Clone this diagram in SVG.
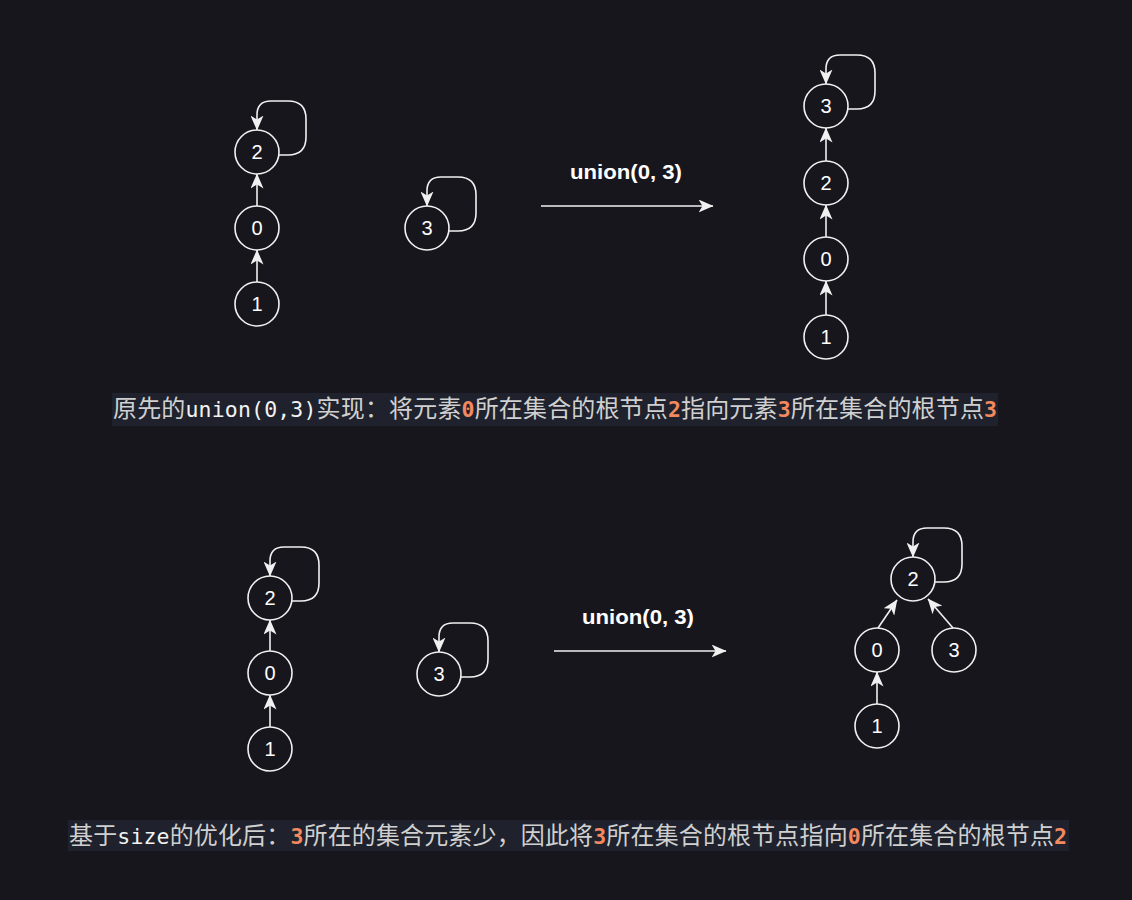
<svg xmlns="http://www.w3.org/2000/svg" width="1132" height="900" viewBox="0 0 1132 900">
<style>
.n circle{fill:none;stroke:#f0f0f0;stroke-width:1.6}
.n text{fill:#ffffff;font-family:"Liberation Sans",Arial,sans-serif;font-size:20px;text-anchor:middle}
.e{fill:none;stroke:#f0f0f0;stroke-width:1.6;marker-end:url(#ah)}
.lbl{fill:#ffffff;font-family:"Liberation Sans",Arial,sans-serif;font-size:20px;font-weight:bold;text-anchor:middle}
.cap{fill:#d0d0d0;font-family:"Noto Sans CJK SC",sans-serif;font-size:24px}
.m{font-family:"DejaVu Sans Mono","Noto Sans CJK SC",monospace;font-size:21.5px;fill:#f2f2f2}
.o{font-family:"DejaVu Sans Mono","Noto Sans CJK SC",monospace;font-size:21.5px;font-weight:bold;fill:#f4895f}
</style>
<defs>
<marker id="ah" markerUnits="userSpaceOnUse" markerWidth="15" markerHeight="13" viewBox="0 0 15 13" refX="14.5" refY="6.5" orient="auto">
<path d="M0,0 L15,6.5 L0,13 L4,6.5 Z" fill="#f0f0f0"/>
</marker>
</defs>
<rect width="1132" height="900" fill="#18161d"/>

<g id="connectors">
<!-- top left -->
<path class="e" d="M279,155 H288 Q306,155 306,137 V119 Q306,101 288,101 H271 Q257,101 257,115 V130"/>
<path class="e" d="M257,206 V174"/>
<path class="e" d="M257,282 V250"/>
<path class="e" d="M449,231 H458 Q476,231 476,213 V195 Q476,177 458,177 H441 Q427,177 427,191 V206"/>
<path class="e" d="M541,206 H713"/>
<!-- top right -->
<path class="e" d="M848,109 H857 Q875,109 875,91 V73 Q875,55 857,55 H840 Q826,55 826,69 V84"/>
<path class="e" d="M826,161 V128"/>
<path class="e" d="M826,237 V205"/>
<path class="e" d="M826,315 V281"/>
<!-- bottom left -->
<path class="e" d="M292,601 H301 Q319,601 319,583 V565 Q319,547 301,547 H284 Q270,547 270,561 V576"/>
<path class="e" d="M270,651 V620"/>
<path class="e" d="M270,727 V695"/>
<path class="e" d="M461,677 H470 Q488,677 488,659 V641 Q488,623 470,623 H453 Q439,623 439,637 V652"/>
<path class="e" d="M554,651 H726"/>
<!-- bottom right -->
<path class="e" d="M935,582 H944 Q962,582 962,564 V546 Q962,528 944,528 H927 Q913,528 913,542 V557"/>
<path class="e" d="M878,628 L897,600"/>
<path class="e" d="M953,628 L928,599"/>
<path class="e" d="M877,704 V672"/>
</g>

<g id="tl-2" class="n"><circle cx="257" cy="152" r="22"/><text x="257" y="159">2</text></g>
<g id="tl-0" class="n"><circle cx="257" cy="228" r="22"/><text x="257" y="235">0</text></g>
<g id="tl-1" class="n"><circle cx="257" cy="304" r="22"/><text x="257" y="311">1</text></g>
<g id="tl-3" class="n"><circle cx="427" cy="228" r="22"/><text x="427" y="235">3</text></g>

<g id="tr-3" class="n"><circle cx="826" cy="106" r="22"/><text x="826" y="113">3</text></g>
<g id="tr-2" class="n"><circle cx="826" cy="183" r="22"/><text x="826" y="190">2</text></g>
<g id="tr-0" class="n"><circle cx="826" cy="259" r="22"/><text x="826" y="266">0</text></g>
<g id="tr-1" class="n"><circle cx="826" cy="337" r="22"/><text x="826" y="344">1</text></g>

<g id="bl-2" class="n"><circle cx="270" cy="598" r="22"/><text x="270" y="605">2</text></g>
<g id="bl-0" class="n"><circle cx="270" cy="673" r="22"/><text x="270" y="680">0</text></g>
<g id="bl-1" class="n"><circle cx="270" cy="749" r="22"/><text x="270" y="756">1</text></g>
<g id="bl-3" class="n"><circle cx="439" cy="674" r="22"/><text x="439" y="681">3</text></g>

<g id="br-2" class="n"><circle cx="913" cy="579" r="22"/><text x="913" y="586">2</text></g>
<g id="br-0" class="n"><circle cx="877" cy="650" r="22"/><text x="877" y="657">0</text></g>
<g id="br-3" class="n"><circle cx="954" cy="650" r="22"/><text x="954" y="657">3</text></g>
<g id="br-1" class="n"><circle cx="877" cy="726" r="22"/><text x="877" y="733">1</text></g>

<g id="label-top"><text class="lbl" x="626" y="179" textLength="112" lengthAdjust="spacingAndGlyphs">union(0, 3)</text></g>
<g id="label-bottom"><text class="lbl" x="638" y="624" textLength="112" lengthAdjust="spacingAndGlyphs">union(0, 3)</text></g>

<g id="caption-top">
<rect x="112" y="393" width="886" height="33" fill="#1f222c"/>
<text class="cap" x="113" y="417" textLength="884" lengthAdjust="spacing">原先的<tspan class="m">union(0,3)</tspan>实现：将元素<tspan class="o">0</tspan>所在集合的根节点<tspan class="o">2</tspan>指向元素<tspan class="o">3</tspan>所在集合的根节点<tspan class="o">3</tspan></text>
</g>
<g id="caption-bottom">
<rect x="68" y="820" width="1001" height="31" fill="#1f222c"/>
<text class="cap" x="69" y="844" textLength="998" lengthAdjust="spacing">基于<tspan class="m">size</tspan>的优化后：<tspan class="o">3</tspan>所在的集合元素少，因此将<tspan class="o">3</tspan>所在集合的根节点指向<tspan class="o">0</tspan>所在集合的根节点<tspan class="o">2</tspan></text>
</g>
</svg>
